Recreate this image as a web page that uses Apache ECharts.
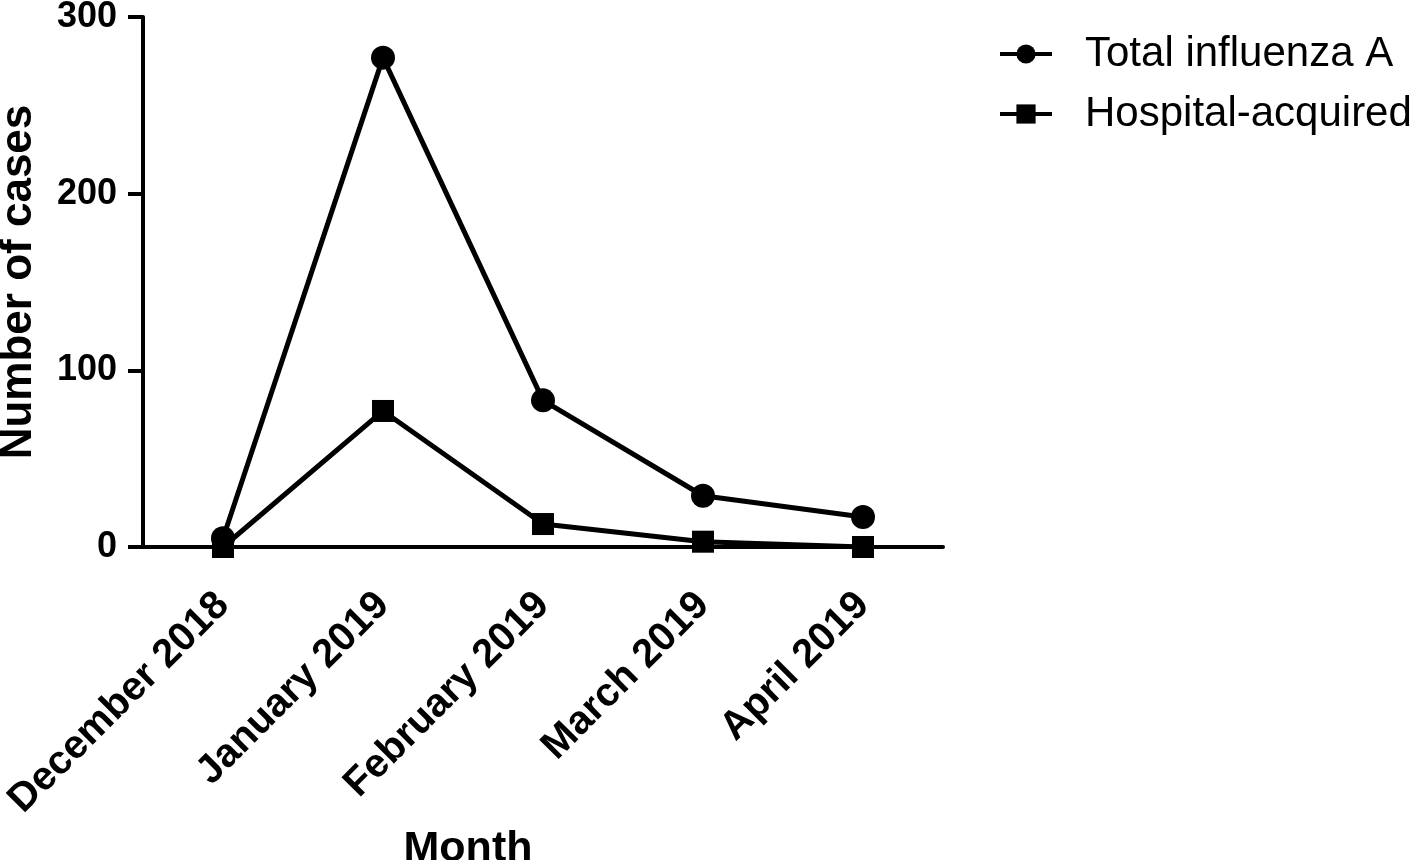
<!DOCTYPE html>
<html>
<head>
<meta charset="utf-8">
<script src="https://cdn.jsdelivr.net/npm/echarts@6/dist/echarts.min.js"></script>
<style>html,body{margin:0;padding:0;background:#fff}#c{width:1418px;height:860px}</style>
</head>
<body>
<div id="c"></div>
<script>
const months = ['December 2018', 'January 2019', 'February 2019', 'March 2019', 'April 2019'];
const totalInfluenzaA = [5, 277, 83, 29, 17];
const hospitalAcquired = [0, 77, 13, 3, 0];
const yTicks = [0, 100, 200, 300];

const FONT = '"Liberation Sans", Arial, sans-serif';
const chart = echarts.init(document.getElementById('c'));
chart.setOption({
  animation: false,
  backgroundColor: '#fff',
  grid: { left: 143, right: 475, top: 17, bottom: 313, containLabel: false, outerBoundsMode: 'none' },
  legend: {
    orient: 'vertical', left: 993, top: 28, itemWidth: 52, itemHeight: 24, itemGap: 18,
    lineStyle: { width: 4 },
    textStyle: { fontFamily: FONT, fontSize: 42, color: '#000', padding: [0, 0, 0, 28] },
    data: ['Total influenza A', 'Hospital-acquired']
  },
  xAxis: {
    type: 'category', data: months, boundaryGap: true,
    name: 'Month', nameLocation: 'middle', nameGap: 276,
    nameTextStyle: { fontFamily: FONT, fontSize: 43, fontWeight: 'bold', color: '#000', padding: [0, 150, 0, 0] },
    axisLine: { lineStyle: { color: '#000', width: 4 } },
    axisTick: { alignWithLabel: true, length: 15, lineStyle: { color: '#000', width: 4 } },
    axisLabel: { rotate: 45, margin: 52, fontFamily: FONT, fontSize: 40, fontWeight: 'bold', color: '#000' }
  },
  yAxis: {
    type: 'value', min: 0, max: 300, interval: 100,
    name: 'Number of cases', nameLocation: 'middle', nameGap: 102,
    nameTextStyle: { fontFamily: FONT, fontSize: 44, fontWeight: 'bold', color: '#000' },
    splitLine: { show: false },
    axisLine: { show: true, lineStyle: { color: '#000', width: 4 } },
    axisTick: { show: true, length: 15, lineStyle: { color: '#000', width: 4 } },
    axisLabel: { margin: 26, fontFamily: FONT, fontSize: 36, fontWeight: 'bold', color: '#000',
      formatter: v => yTicks.includes(v) ? String(v) : '' }
  },
  series: [
    { name: 'Total influenza A', type: 'line', data: totalInfluenzaA, symbol: 'circle', symbolSize: 24,
      lineStyle: { color: '#000', width: 5 }, itemStyle: { color: '#000' }, z: 3 },
    { name: 'Hospital-acquired', type: 'line', data: hospitalAcquired, symbol: 'rect', symbolSize: 22,
      lineStyle: { color: '#000', width: 5 }, itemStyle: { color: '#000' }, z: 4 }
  ]
});
</script>
</body>
</html>
